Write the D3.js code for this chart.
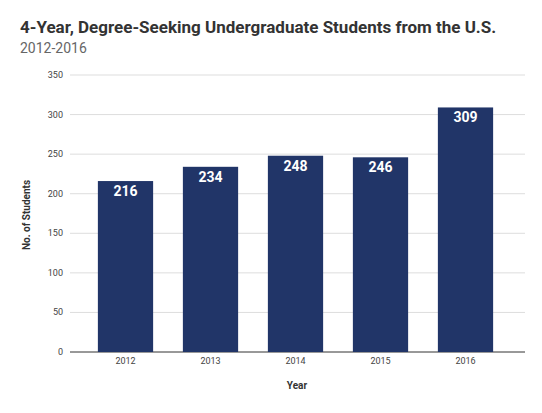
<!DOCTYPE html>
<html><head><meta charset="utf-8">
<script src="https://cdn.jsdelivr.net/npm/d3@7"></script>
<style>body{margin:0;background:#fff;font-family:Roboto,"Open Sans",sans-serif}</style>
</head><body>
<svg id="c" width="542" height="413"></svg>
<script>
const years = ["2012","2013","2014","2015","2016"];
const students = [216,234,248,246,309];
const yTicks = [0,50,100,150,200,250,300,350];

const svg = d3.select("#c");
const x = d3.scaleBand().domain(years).range([83,508]).paddingInner(0.35).paddingOuter(0.175);
const y = d3.scaleLinear().domain([0,350]).range([352,75]);

svg.append("text").attr("x",20).attr("y",33).attr("font-size",17).attr("font-weight","bold").attr("fill","#333")
  .text("4-Year, Degree-Seeking Undergraduate Students from the U.S.");
svg.append("text").attr("x",20).attr("y",53).attr("font-size",14).attr("fill","#666").text("2012-2016");

svg.selectAll(".g").data(yTicks).join("line")
  .attr("x1",70).attr("x2",525).attr("y1",d=>y(d)).attr("y2",d=>y(d))
  .attr("stroke",d=>d===0?"#333":"#ddd").attr("stroke-width",1);
svg.selectAll(".yl").data(yTicks).join("text")
  .attr("x",63).attr("y",d=>y(d)+3).attr("text-anchor","end").attr("font-size",9).attr("fill","#444").text(d=>d);

svg.selectAll("rect").data(years).join("rect")
  .attr("x",d=>x(d)).attr("width",x.bandwidth())
  .attr("y",(d,i)=>y(students[i])).attr("height",(d,i)=>y(0)-y(students[i]))
  .attr("fill","#213568");
svg.selectAll(".vl").data(years).join("text")
  .attr("x",d=>x(d)+x.bandwidth()/2).attr("y",(d,i)=>y(students[i])+15)
  .attr("text-anchor","middle").attr("font-size",14).attr("font-weight","bold").attr("fill","#fff")
  .text((d,i)=>students[i]);
svg.selectAll(".xl").data(years).join("text")
  .attr("x",d=>x(d)+x.bandwidth()/2).attr("y",364)
  .attr("text-anchor","middle").attr("font-size",9).attr("fill","#444").text(d=>d);

svg.append("text").attr("x",297).attr("y",389).attr("text-anchor","middle").attr("font-size",10).attr("font-weight","bold").attr("fill","#333").text("Year");
svg.append("text").attr("transform","translate(30,215) rotate(-90)").attr("text-anchor","middle").attr("font-size",10).attr("font-weight","bold").attr("fill","#333").text("No. of Students");
</script></body></html>
